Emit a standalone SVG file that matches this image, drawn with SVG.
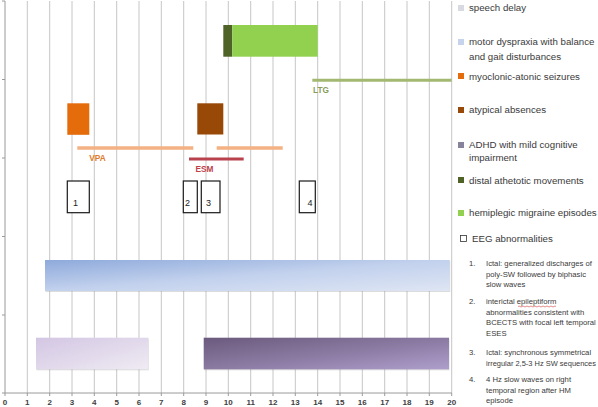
<svg xmlns="http://www.w3.org/2000/svg" width="598" height="407" viewBox="0 0 598 407">
<style>
.grid{stroke:#c6c6c6;stroke-width:1}
.axis{stroke:#9a9a9a;stroke-width:1}
.ax{font-family:"Liberation Sans",Arial,sans-serif;font-size:8px;font-weight:bold;fill:#404040;text-anchor:middle}
.drug{font-family:"Liberation Sans",Arial,sans-serif;font-size:8.3px;font-weight:bold}
.box{fill:#fff;stroke:#1a1a1a;stroke-width:1.2}
.boxt{font-family:"Liberation Sans",Arial,sans-serif;font-size:9px;fill:#222;text-anchor:middle}
.leg{font-family:"Liberation Sans",Arial,sans-serif;font-size:9.7px;fill:#3a3a3a}
.lst{font-family:"Liberation Sans",Arial,sans-serif;font-size:7.7px;fill:#3a3a3a}
.shadow{fill:#9a9a9a;opacity:0.35}
</style>
<defs>
<linearGradient id="gMotor" x1="0" y1="0" x2="1" y2="1">
<stop offset="0" stop-color="#8eaadb"/>
<stop offset="0.5" stop-color="#c2d1ed"/>
<stop offset="1" stop-color="#dfe6f4"/>
</linearGradient>
<linearGradient id="gSpeech" x1="0" y1="0" x2="1" y2="1">
<stop offset="0" stop-color="#d3c6e3"/>
<stop offset="1" stop-color="#efebf3"/>
</linearGradient>
<linearGradient id="gAdhd" x1="0" y1="0" x2="1" y2="1">
<stop offset="0" stop-color="#6b5a7c"/>
<stop offset="0.5" stop-color="#8a7aa2"/>
<stop offset="1" stop-color="#ae9ecb"/>
</linearGradient>
</defs>
<rect width="598" height="407" fill="#fff"/>
<g id="grid">
<line class="grid" x1="27.3" y1="1" x2="27.3" y2="393"/>
<line class="grid" x1="49.7" y1="1" x2="49.7" y2="393"/>
<line class="grid" x1="72" y1="1" x2="72" y2="393"/>
<line class="grid" x1="94.3" y1="1" x2="94.3" y2="393"/>
<line class="grid" x1="116.7" y1="1" x2="116.7" y2="393"/>
<line class="grid" x1="139" y1="1" x2="139" y2="393"/>
<line class="grid" x1="161.3" y1="1" x2="161.3" y2="393"/>
<line class="grid" x1="183.7" y1="1" x2="183.7" y2="393"/>
<line class="grid" x1="206" y1="1" x2="206" y2="393"/>
<line class="grid" x1="228.3" y1="1" x2="228.3" y2="393"/>
<line class="grid" x1="250.7" y1="1" x2="250.7" y2="393"/>
<line class="grid" x1="273" y1="1" x2="273" y2="393"/>
<line class="grid" x1="295.3" y1="1" x2="295.3" y2="393"/>
<line class="grid" x1="317.7" y1="1" x2="317.7" y2="393"/>
<line class="grid" x1="340" y1="1" x2="340" y2="393"/>
<line class="grid" x1="362.3" y1="1" x2="362.3" y2="393"/>
<line class="grid" x1="384.7" y1="1" x2="384.7" y2="393"/>
<line class="grid" x1="407" y1="1" x2="407" y2="393"/>
<line class="grid" x1="429.3" y1="1" x2="429.3" y2="393"/>
<line class="grid" x1="451.7" y1="1" x2="451.7" y2="393"/>
</g>
<g id="axes">
<line class="axis" x1="5" y1="1" x2="5" y2="393"/>
<line class="axis" x1="2" y1="393" x2="452" y2="393"/>
<path class="axis" d="M2 1H5M2 79.5H5M2 158H5M2 236.5H5M2 315H5"/>
<path class="axis" d="M5 393V396M27.3 393V396M49.7 393V396M72 393V396M94.3 393V396M116.7 393V396M139 393V396M161.3 393V396M183.7 393V396M206 393V396M228.3 393V396M250.7 393V396M273 393V396M295.3 393V396M317.7 393V396M340 393V396M362.3 393V396M384.7 393V396M407 393V396M429.3 393V396M451.7 393V396"/>
<text class="ax" x="5" y="405">0</text>
<text class="ax" x="27.3" y="405">1</text>
<text class="ax" x="49.7" y="405">2</text>
<text class="ax" x="72" y="405">3</text>
<text class="ax" x="94.3" y="405">4</text>
<text class="ax" x="116.7" y="405">5</text>
<text class="ax" x="139" y="405">6</text>
<text class="ax" x="161.3" y="405">7</text>
<text class="ax" x="183.7" y="405">8</text>
<text class="ax" x="206" y="405">9</text>
<text class="ax" x="228.3" y="405">10</text>
<text class="ax" x="250.7" y="405">11</text>
<text class="ax" x="273" y="405">12</text>
<text class="ax" x="295.3" y="405">13</text>
<text class="ax" x="317.7" y="405">14</text>
<text class="ax" x="340" y="405">15</text>
<text class="ax" x="362.3" y="405">16</text>
<text class="ax" x="384.7" y="405">17</text>
<text class="ax" x="407" y="405">18</text>
<text class="ax" x="429.3" y="405">19</text>
<text class="ax" x="451.7" y="405">20</text>
</g>
<g id="distal-athetotic">
<rect x="223.3" y="25" width="9" height="31.7" fill="#4f6228"/>
</g>
<g id="hemiplegic-migraine">
<rect x="232.3" y="25" width="85.4" height="31.7" fill="#92d050"/>
</g>
<g id="myoclonic-atonic">
<rect x="67.3" y="103.3" width="22" height="31.5" fill="#e46c0a"/>
</g>
<g id="atypical-absences">
<rect x="197.3" y="103.3" width="26" height="31.2" fill="#984807"/>
</g>
<g id="connectors">
<line x1="312.3" y1="80.3" x2="451.7" y2="80.3" stroke="#a3b972" stroke-width="3"/>
<line x1="77.3" y1="148" x2="193.3" y2="148" stroke="#f4b183" stroke-width="3.5"/>
<line x1="216.7" y1="148" x2="282.7" y2="148" stroke="#f4b183" stroke-width="3.5"/>
<line x1="189" y1="159" x2="243.7" y2="159" stroke="#b8424e" stroke-width="3"/>
</g>
<g id="drug-labels">
<text class="drug" x="313" y="93" fill="#8a9e5a">LTG</text>
<text class="drug" x="89.3" y="160.5" fill="#e07b2a">VPA</text>
<text class="drug" x="195.5" y="172" fill="#c0404a">ESM</text>
</g>
<g id="eeg-1"><rect class="box" x="67.3" y="181" width="22" height="31.7"/><text class="boxt" x="75.5" y="206">1</text></g>
<g id="eeg-2"><rect class="box" x="183.3" y="181" width="14" height="31.7"/><text class="boxt" x="187.5" y="206">2</text></g>
<g id="eeg-3"><rect class="box" x="201.3" y="181" width="18.7" height="31.7"/><text class="boxt" x="208.5" y="206">3</text></g>
<g id="eeg-4"><rect class="box" x="299.3" y="181" width="16" height="31.7"/><text class="boxt" x="310" y="206">4</text></g>
<g id="motor-dyspraxia">
<rect class="shadow" x="45.5" y="261" width="404.7" height="31"/>
<rect x="45" y="260" width="404.7" height="31" fill="url(#gMotor)"/>
</g>
<g id="speech-delay">
<rect class="shadow" x="36.5" y="338.7" width="112.3" height="31.6"/>
<rect x="36" y="337.7" width="112.3" height="31.6" fill="url(#gSpeech)"/>
</g>
<g id="adhd">
<rect class="shadow" x="204.2" y="338.7" width="245.3" height="31.6"/>
<rect x="203.7" y="337.7" width="245.3" height="31.6" fill="url(#gAdhd)"/>
</g>
<g id="legend">
<rect x="458" y="5" width="6" height="6" fill="#d9d9e2"/>
<text class="leg" x="469" y="11">speech delay</text>
<rect x="458" y="39" width="6" height="6" fill="#c6d3ec"/>
<text class="leg" x="469" y="45">motor dyspraxia with balance</text>
<text class="leg" x="469" y="60">and gait disturbances</text>
<rect x="458" y="73" width="6" height="6" fill="#e46c0a"/>
<text class="leg" x="469" y="79.5">myoclonic-atonic seizures</text>
<rect x="458" y="107" width="6" height="6" fill="#984807"/>
<text class="leg" x="469" y="113">atypical absences</text>
<rect x="458" y="142" width="6" height="6" fill="#86839a"/>
<text class="leg" x="469" y="148">ADHD with mild cognitive</text>
<text class="leg" x="469" y="160.5">impairment</text>
<rect x="458" y="177" width="6" height="6" fill="#4f6228"/>
<text class="leg" x="469" y="183.5">distal athetotic movements</text>
<rect x="458" y="210" width="6" height="6" fill="#92d050"/>
<text class="leg" x="469" y="216">hemiplegic migraine episodes</text>
<rect x="460.5" y="235.5" width="6" height="6" fill="#fff" stroke="#333" stroke-width="0.8"/>
<text class="leg" x="472" y="242">EEG abnormalities</text>
</g>
<g id="eeg-list">
<text class="lst" x="469" y="266">1.</text>
<text class="lst" x="486" y="266">Ictal: generalized discharges  of</text>
<text class="lst" x="486" y="276.5">poly-SW followed by biphasic</text>
<text class="lst" x="486" y="287">slow waves</text>
<text class="lst" x="469" y="304">2.</text>
<text class="lst" x="486" y="304">interictal epileptiform</text>
<path d="M518 306.5q1 -1 2 0t2 0t2 0t2 0t2 0t2 0t2 0t2 0t2 0t2 0t2 0t2 0t2 0t2 0t2 0t2 0t2 0t2 0t2 0" fill="none" stroke="#d04040" stroke-width="0.6"/>
<text class="lst" x="486" y="314.5">abnormalities consistent with</text>
<text class="lst" x="486" y="325">BCECTS with focal left temporal</text>
<text class="lst" x="486" y="335.5">ESES</text>
<text class="lst" x="469" y="355">3.</text>
<text class="lst" x="486" y="355">Ictal: synchronous symmetrical</text>
<text class="lst" x="486" y="365.5" textLength="110" lengthAdjust="spacingAndGlyphs">irregular 2,5-3 Hz SW sequences</text>
<text class="lst" x="469" y="382">4.</text>
<text class="lst" x="486" y="382">4 Hz slow waves on right</text>
<text class="lst" x="486" y="392.5">temporal region after HM</text>
<text class="lst" x="486" y="403">episode</text>
</g>
</svg>
